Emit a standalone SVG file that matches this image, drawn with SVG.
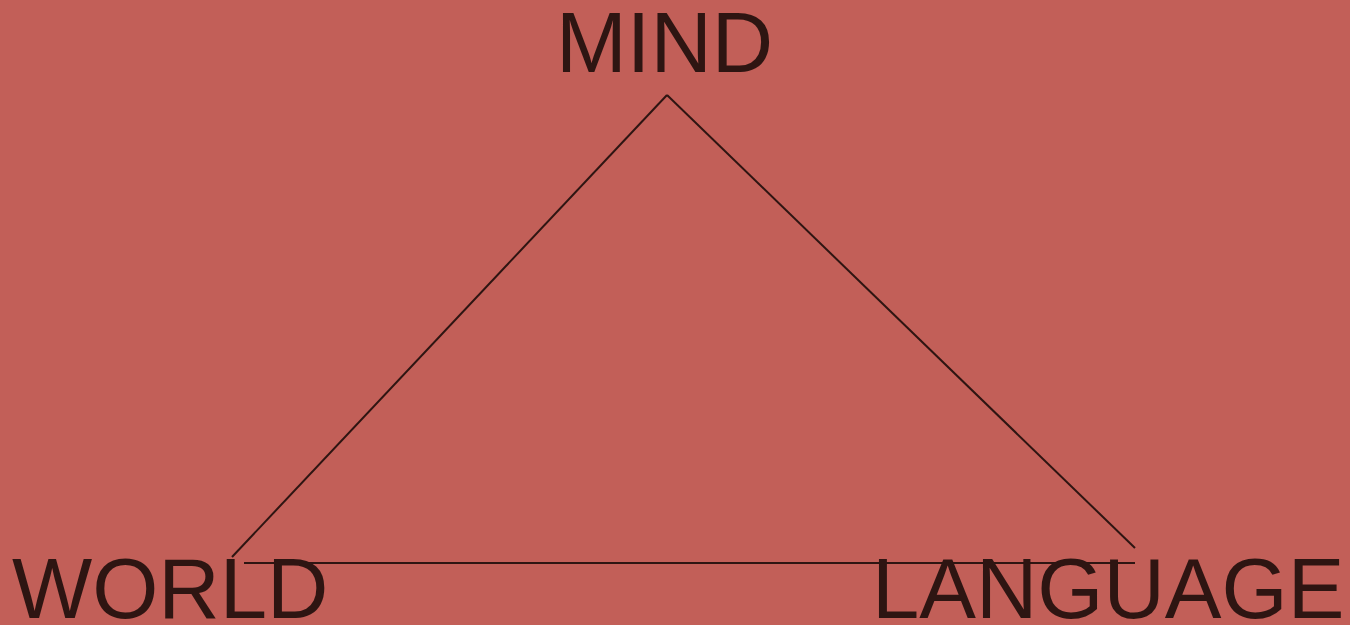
<svg xmlns="http://www.w3.org/2000/svg" width="1350" height="625" viewBox="0 0 1350 625">
<style>
.lbl{font-family:"Liberation Sans",Arial,sans-serif;font-size:85px;fill:#2E1512}
.ln{stroke:#2E1512;stroke-width:2;fill:none}
</style>
<rect width="1350" height="625" fill="#C25F58"/>
<g id="connectors">
<line class="ln" x1="667" y1="95" x2="232" y2="557"/>
<line class="ln" x1="667" y1="95" x2="1135" y2="548"/>
<line class="ln" x1="244" y1="563" x2="1135" y2="563"/>
</g>
<g id="mind"><text class="lbl" x="556" y="72">MIND</text></g>
<g id="world"><text class="lbl" x="12" y="618">WORLD</text></g>
<g id="language"><text class="lbl" x="872" y="618">LANGUAGE</text></g>
</svg>
